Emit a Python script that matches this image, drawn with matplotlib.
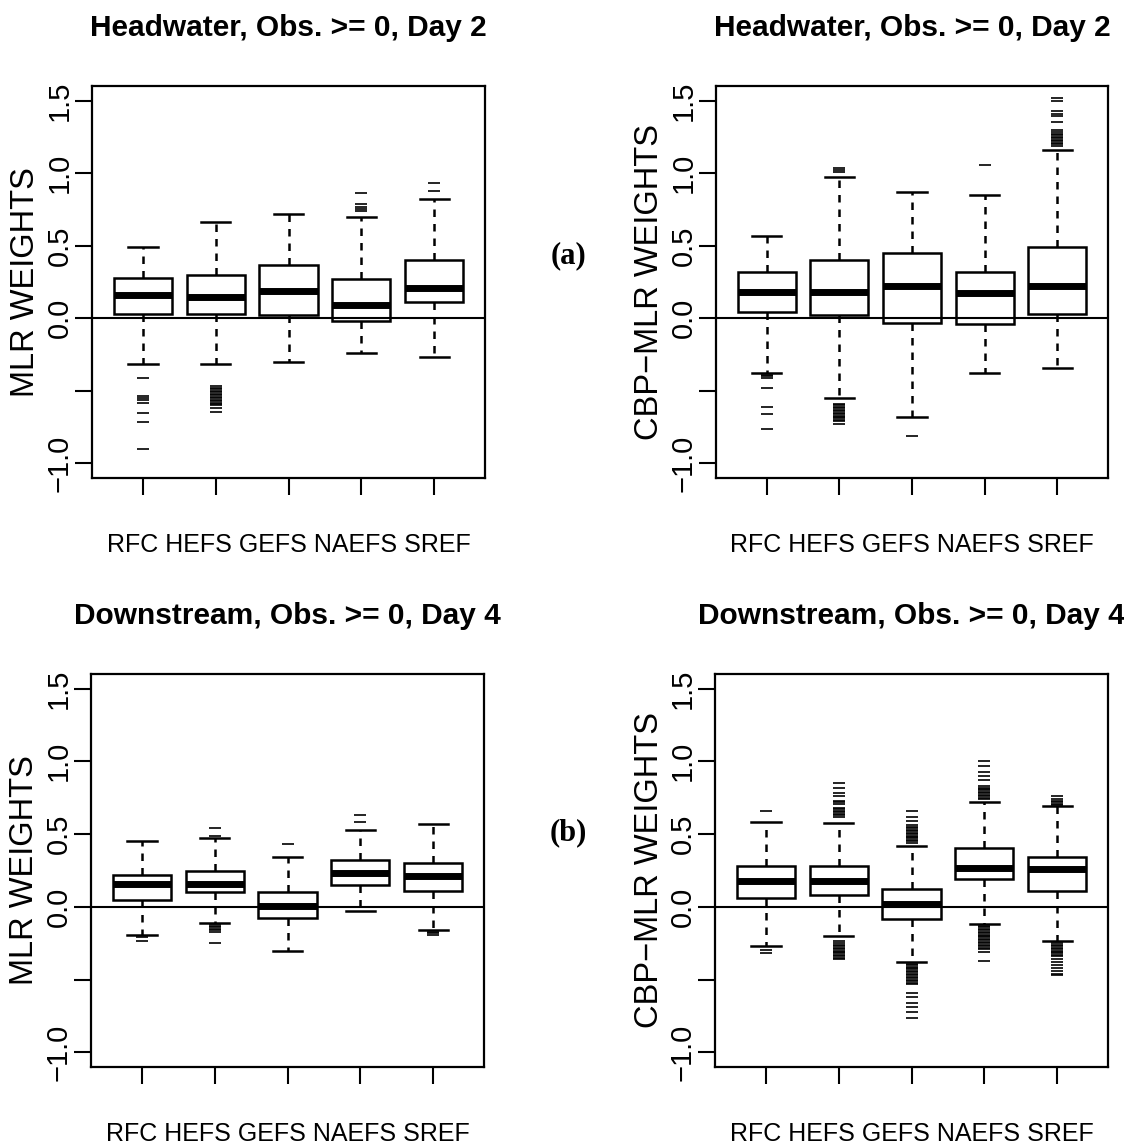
import matplotlib
matplotlib.use("Agg")
import matplotlib.pyplot as plt

plt.rcParams["font.family"] = ["Liberation Sans", "DejaVu Sans"]

categories = ["RFC", "HEFS", "GEFS", "NAEFS", "SREF"]
ytick_values = [-1.0, -0.5, 0.0, 0.5, 1.0, 1.5]
ytick_labels = ["\u22121.0", "", "0.0", "0.5", "1.0", "1.5"]

# (a) Headwater, Day 2 -- MLR weights
a_mlr_whishi = [0.49, 0.66, 0.72, 0.70, 0.82]
a_mlr_q3 = [0.28, 0.30, 0.37, 0.27, 0.40]
a_mlr_med = [0.16, 0.15, 0.19, 0.09, 0.21]
a_mlr_q1 = [0.03, 0.03, 0.02, -0.02, 0.11]
a_mlr_whislo = [-0.315, -0.315, -0.30, -0.24, -0.27]
a_mlr_fliers = [
    [-0.41, -0.535, -0.55, -0.565, -0.58, -0.65, -0.715, -0.90],
    [-0.465, -0.48, -0.49, -0.50, -0.51, -0.52, -0.53, -0.54, -0.55, -0.56,
     -0.57, -0.58, -0.59, -0.60, -0.62, -0.645],
    [],
    [0.86, 0.785, 0.77, 0.755, 0.74],
    [0.93, 0.88],
]

# (a) Headwater, Day 2 -- CBP-MLR weights
a_cbp_whishi = [0.57, 0.975, 0.87, 0.85, 1.16]
a_cbp_q3 = [0.32, 0.40, 0.45, 0.32, 0.49]
a_cbp_med = [0.18, 0.18, 0.22, 0.175, 0.22]
a_cbp_q1 = [0.04, 0.02, -0.03, -0.04, 0.03]
a_cbp_whislo = [-0.38, -0.55, -0.68, -0.38, -0.345]
a_cbp_fliers = [
    [-0.39, -0.40, -0.41, -0.48, -0.61, -0.66, -0.76],
    [1.005, 1.02, 1.035,
     -0.59, -0.60, -0.61, -0.62, -0.63, -0.64, -0.65, -0.66, -0.67, -0.68,
     -0.69, -0.70, -0.71, -0.725],
    [-0.81],
    [1.055],
    [1.515, 1.50, 1.425, 1.41, 1.39, 1.35, 1.295, 1.28, 1.27, 1.26, 1.25,
     1.24, 1.23, 1.22, 1.21, 1.20, 1.19],
]

# (b) Downstream, Day 4 -- MLR weights
b_mlr_whishi = [0.45, 0.47, 0.34, 0.53, 0.57]
b_mlr_q3 = [0.22, 0.25, 0.10, 0.32, 0.30]
b_mlr_med = [0.16, 0.16, 0.005, 0.23, 0.21]
b_mlr_q1 = [0.05, 0.105, -0.075, 0.15, 0.11]
b_mlr_whislo = [-0.19, -0.11, -0.30, -0.03, -0.16]
b_mlr_fliers = [
    [-0.21, -0.235],
    [0.54, 0.485, -0.12, -0.13, -0.14, -0.15, -0.16, -0.17, -0.25],
    [0.43],
    [0.63, 0.58],
    [-0.17, -0.18, -0.19],
]

# (b) Downstream, Day 4 -- CBP-MLR weights
b_cbp_whishi = [0.585, 0.575, 0.42, 0.72, 0.69]
b_cbp_q3 = [0.28, 0.28, 0.125, 0.405, 0.34]
b_cbp_med = [0.18, 0.18, 0.02, 0.27, 0.26]
b_cbp_q1 = [0.06, 0.085, -0.08, 0.195, 0.11]
b_cbp_whislo = [-0.27, -0.20, -0.38, -0.12, -0.235]
b_cbp_fliers = [
    [0.66, -0.295, -0.32],
    [0.85, 0.82, 0.78, 0.76, 0.73, 0.72, 0.71, 0.68, 0.67, 0.66, 0.65, 0.64,
     0.63, 0.62,
     -0.235, -0.25, -0.26, -0.27, -0.28, -0.29, -0.30, -0.31, -0.32, -0.33,
     -0.34, -0.35, -0.36],
    [0.66, 0.62, 0.59, 0.56, 0.55, 0.54, 0.53, 0.52, 0.51, 0.50, 0.49, 0.48,
     0.47, 0.46, 0.45, 0.44,
     -0.39, -0.40, -0.41, -0.42, -0.43, -0.44, -0.45, -0.46, -0.47, -0.48,
     -0.49, -0.50, -0.51, -0.52, -0.53, -0.59, -0.62, -0.66, -0.69, -0.72,
     -0.76],
    [1.00, 0.97, 0.93, 0.90, 0.87, 0.83, 0.82, 0.81, 0.80, 0.79, 0.78, 0.77,
     0.76, 0.75, 0.74,
     -0.13, -0.14, -0.15, -0.16, -0.17, -0.18, -0.19, -0.20, -0.21, -0.22,
     -0.23, -0.24, -0.25, -0.26, -0.27, -0.28, -0.29, -0.31, -0.37],
    [0.76, 0.74, 0.73, 0.72, 0.71, 0.70,
     -0.245, -0.26, -0.27, -0.28, -0.29, -0.30, -0.31, -0.32, -0.33, -0.34,
     -0.36, -0.38, -0.40, -0.42, -0.44, -0.46, -0.47],
]

W, H = 1124, 1147
fig = plt.figure(figsize=(W / 100, H / 100), dpi=100)
fig.patch.set_facecolor("white")


def make_stats(q1, med, q3, lo, hi, fl):
    return [dict(q1=a, med=b, q3=c, whislo=d, whishi=e, fliers=f)
            for a, b, c, d, e, f in zip(q1, med, q3, lo, hi, fl)]


def panel(rect_px, title, ylabel, stats):
    x0, y0, w, h = rect_px
    ax = fig.add_axes([x0 / W, 1 - (y0 + h) / H, w / W, h / H])
    pos = list(range(1, len(categories) + 1))
    ax.bxp(stats, positions=pos, widths=0.8, patch_artist=True,
           manage_ticks=False,
           boxprops=dict(facecolor="white", edgecolor="black", linewidth=1.8),
           medianprops=dict(color="black", linewidth=5, solid_capstyle="butt"),
           whiskerprops=dict(color="black", linewidth=1.8,
                             linestyle=(0, (3.0, 2.8))),
           capprops=dict(color="black", linewidth=1.8),
           flierprops=dict(marker="_", markersize=9, markeredgewidth=1.2,
                           markeredgecolor="black", linestyle="none"))
    ax.axhline(0, color="black", linewidth=1.5, zorder=4)
    ax.set_xlim(0.3, 5.7)
    ax.set_ylim(-1.1, 1.6)
    ax.set_xticks(pos)
    ax.set_xticklabels([])
    ax.set_yticks(ytick_values)
    ax.set_yticklabels(ytick_labels, rotation=90, va="center", fontsize=21)
    ax.tick_params(axis="both", length=12, width=1.5, color="black", pad=1)
    for s in ax.spines.values():
        s.set_linewidth(1.6)
    ax.text(0.5, 1 + 50 / h, title, transform=ax.transAxes, ha="center",
            va="baseline", fontsize=21.5, fontweight="bold")
    ax.text(-66 / w, 0.5, ylabel, transform=ax.transAxes, rotation=90,
            ha="center", va="center", fontsize=23.5)
    ax.text(0.5, -67 / h, " ".join(categories), transform=ax.transAxes,
            ha="center", va="center", fontsize=18)
    return ax


panel((92, 86, 393, 392), "Headwater, Obs. >= 0, Day 2", "MLR WEIGHTS",
      make_stats(a_mlr_q1, a_mlr_med, a_mlr_q3, a_mlr_whislo, a_mlr_whishi,
                 a_mlr_fliers))
panel((716, 86, 392, 392), "Headwater, Obs. >= 0, Day 2",
      "CBP\u2212MLR WEIGHTS",
      make_stats(a_cbp_q1, a_cbp_med, a_cbp_q3, a_cbp_whislo, a_cbp_whishi,
                 a_cbp_fliers))
panel((91, 674, 393, 393), "Downstream, Obs. >= 0, Day 4", "MLR WEIGHTS",
      make_stats(b_mlr_q1, b_mlr_med, b_mlr_q3, b_mlr_whislo, b_mlr_whishi,
                 b_mlr_fliers))
panel((715, 674, 393, 393), "Downstream, Obs. >= 0, Day 4",
      "CBP\u2212MLR WEIGHTS",
      make_stats(b_cbp_q1, b_cbp_med, b_cbp_q3, b_cbp_whislo, b_cbp_whishi,
                 b_cbp_fliers))

fig.text(568 / W, 1 - 256 / H, "(a)", ha="center", va="center",
         fontsize=22, fontweight="bold", family="Liberation Serif")
fig.text(568 / W, 1 - 833 / H, "(b)", ha="center", va="center",
         fontsize=22, fontweight="bold", family="Liberation Serif")

fig.savefig("out.png", dpi=100, facecolor="white")
